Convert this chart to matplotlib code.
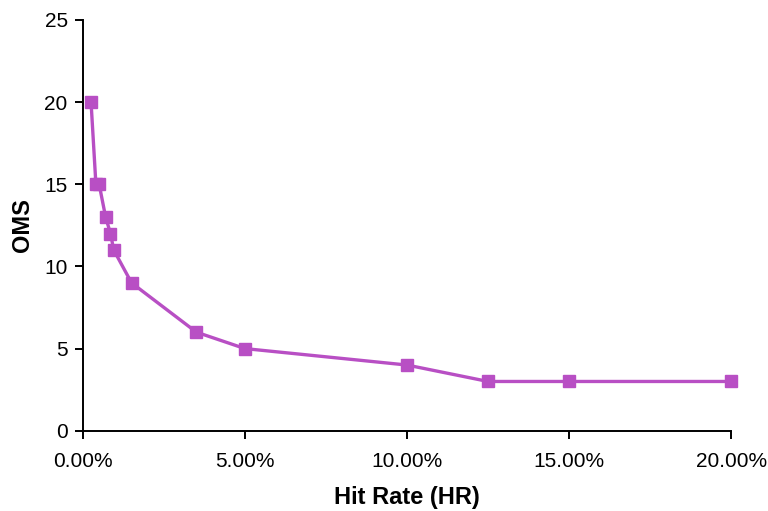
import matplotlib
matplotlib.use('Agg')
import matplotlib.pyplot as plt
from matplotlib.ticker import FuncFormatter

# hit rate (%) and OMS
hit_rate = [0.25, 0.4, 0.5, 0.7, 0.85, 0.95, 1.5, 3.5, 5.0, 10.0, 12.5, 15.0, 20.0]
oms = [20, 15, 15, 13, 12, 11, 9, 6, 5, 4, 3, 3, 3]

plt.rcParams['font.family'] = ['Liberation Sans', 'DejaVu Sans']

fig = plt.figure(figsize=(7.68, 5.11), dpi=100)
ax = fig.add_axes([0.108, 0.157, 0.844, 0.804])
ax.plot(hit_rate, oms, color='#B84FC4', lw=2.4, marker='s', ms=8, mec='#B84FC4', clip_on=False)

ax.set_xlim(0, 20)
ax.set_ylim(0, 25)
ax.set_xticks([0, 5, 10, 15, 20])
ax.set_yticks(range(0, 26, 5))
ax.xaxis.set_major_formatter(FuncFormatter(lambda v, p: '%.2f%%' % v))
for s in ['top', 'right']:
    ax.spines[s].set_visible(False)
for s in ['left', 'bottom']:
    ax.spines[s].set_linewidth(1.4)
ax.tick_params(labelsize=15, width=1.4, length=6, direction='out')
ax.tick_params(axis='x', pad=9)
ax.tick_params(axis='y', pad=5)
ax.set_xlabel('Hit Rate (HR)', fontsize=17, fontweight='bold')
ax.set_ylabel('OMS', fontsize=17, fontweight='bold')
ax.xaxis.set_label_coords(0.5, -0.135)
ax.yaxis.set_label_coords(-0.076, 0.5)

fig.savefig('out.png', dpi=100)
